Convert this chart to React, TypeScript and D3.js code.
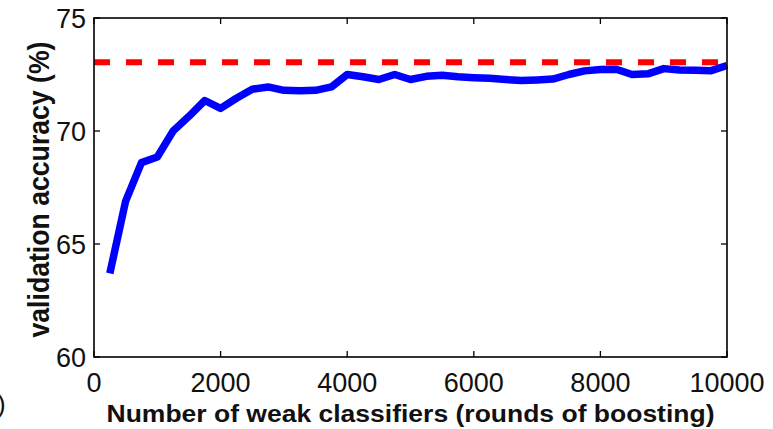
import React from "react";
import * as d3 from "d3";

const rounds = [250,500,750,1000,1250,1500,1750,2000,2250,2500,2750,3000,3250,3500,3750,4000,4250,4500,4750,5000,5250,5500,5750,6000,6250,6500,6750,7000,7250,7500,7750,8000,8250,8500,8750,9000,9250,9500,9750,10000];
const accuracy = [63.7,66.9,68.6,68.85,70.0,70.65,71.35,71.0,71.45,71.85,71.95,71.8,71.78,71.8,71.95,72.5,72.4,72.28,72.5,72.28,72.42,72.47,72.4,72.36,72.33,72.28,72.23,72.26,72.3,72.5,72.66,72.72,72.73,72.5,72.53,72.76,72.7,72.69,72.67,72.9];
const baseline = 73.04;
const xTicks = [0,2000,4000,6000,8000,10000];
const yTicks = [60,65,70,75];
const xLabel = "Number of weak classifiers (rounds of boosting)";
const yLabel = "validation accuracy (%)";

const W = 773, H = 429;
const L = 94, R = 727, T = 18, B = 357;

export default function App() {
  const x = d3.scaleLinear().domain([0, 10000]).range([L, R]);
  const y = d3.scaleLinear().domain([60, 75]).range([B, T]);
  const line = d3.line<number>().x((_, i) => x(rounds[i])).y((d) => y(d));
  const font = "'Liberation Sans', Arial, sans-serif";
  const tick = 6;
  return (
    <svg width={W} height={H} style={{ position: "absolute", left: 0, top: 0, background: "#fff" }} fontFamily={font}>
      <rect x={0} y={0} width={W} height={H} fill="#fff" />
      {/* baseline dashed */}
      <line x1={x(0)} x2={x(9920)} y1={y(baseline)} y2={y(baseline)} stroke="#ff0000" strokeWidth={6} strokeDasharray="16 16" />
      {/* accuracy curve */}
      <path d={line(accuracy) || ""} fill="none" stroke="#0000ff" strokeWidth={7.5} strokeLinejoin="round" strokeLinecap="butt" />
      {/* ticks */}
      {xTicks.map((t) => (
        <g key={"xt" + t}>
          <line x1={x(t)} x2={x(t)} y1={B} y2={B - tick} stroke="#000" strokeWidth={1.3} />
          <line x1={x(t)} x2={x(t)} y1={T} y2={T + tick} stroke="#000" strokeWidth={1.3} />
          <text x={x(t)} y={392} fontSize={27} textAnchor="middle" fill="#111">{t}</text>
        </g>
      ))}
      {yTicks.map((t) => (
        <g key={"yt" + t}>
          <line x1={L} x2={L + tick} y1={y(t)} y2={y(t)} stroke="#000" strokeWidth={1.3} />
          <line x1={R} x2={R - tick} y1={y(t)} y2={y(t)} stroke="#000" strokeWidth={1.3} />
          <text x={86} y={y(t) + 10} fontSize={27} textAnchor="end" fill="#111">{t}</text>
        </g>
      ))}
      {/* box */}
      <rect x={L} y={T} width={R - L} height={B - T} fill="none" stroke="#000" strokeWidth={1.6} />
      {/* labels */}
      <text x={(L + R) / 2} y={422} fontSize={23.5} fontWeight="bold" textAnchor="middle" fill="#111" textLength={608} lengthAdjust="spacingAndGlyphs">{xLabel}</text>
      <text transform={`translate(49,${(T + B) / 2 + 2}) rotate(-90)`} fontSize={30} fontWeight="bold" textAnchor="middle" fill="#111" textLength={296} lengthAdjust="spacingAndGlyphs">{yLabel}</text>
      <text x={-3} y={413} fontSize={26} fill="#111">)</text>
    </svg>
  );
}
